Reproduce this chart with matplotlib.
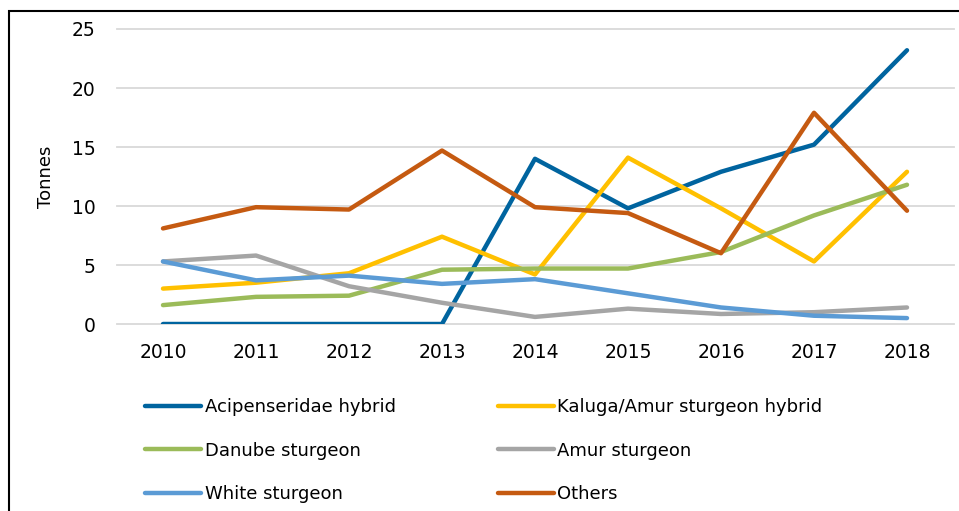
import matplotlib
matplotlib.use('Agg')
import matplotlib.pyplot as plt
from matplotlib.patches import Rectangle

years = ['2010', '2011', '2012', '2013', '2014', '2015', '2016', '2017', '2018']

acipenseridae_hybrid = [0, 0, 0, 0, 14.0, 9.8, 12.9, 15.2, 23.2]
kaluga_amur_hybrid = [3.0, 3.5, 4.3, 7.4, 4.2, 14.1, 9.8, 5.3, 12.9]
danube_sturgeon = [1.6, 2.3, 2.4, 4.6, 4.7, 4.7, 6.1, 9.2, 11.8]
amur_sturgeon = [5.3, 5.8, 3.2, 1.8, 0.6, 1.3, 0.85, 1.0, 1.4]
white_sturgeon = [5.3, 3.7, 4.1, 3.4, 3.8, 2.6, 1.4, 0.7, 0.5]
others = [8.1, 9.9, 9.7, 14.7, 9.9, 9.4, 6.0, 17.9, 9.6]

series_names = ['Acipenseridae hybrid', 'Kaluga/Amur sturgeon hybrid', 'Danube sturgeon',
                'Amur sturgeon', 'White sturgeon', 'Others']
series_values = [acipenseridae_hybrid, kaluga_amur_hybrid, danube_sturgeon,
                 amur_sturgeon, white_sturgeon, others]
series_colors = ['#00649F', '#FFC000', '#9BBB59', '#A5A5A5', '#5B9BD5', '#C55A11']

plt.rcParams['font.family'] = ['DejaVu Sans']

fig = plt.figure(figsize=(9.59, 5.11), dpi=100)
ax = fig.add_axes([116.5 / 959, 187 / 511, 837 / 959, 295 / 511])

x = list(range(len(years)))
lines = {}
for name, values, color in zip(series_names, series_values, series_colors):
    line, = ax.plot(x, values, color=color, linewidth=3.2, label=name,
                    solid_capstyle='round', solid_joinstyle='round')
    lines[name] = line

ax.set_xlim(-0.5, len(years) - 0.5)
ax.set_ylim(0, 25)
ax.set_yticks([0, 5, 10, 15, 20, 25])
ax.set_xticks(x)
ax.set_xticklabels(years)
ax.tick_params(length=0, labelsize=13.5, colors='black')
ax.tick_params(axis='y', pad=15)
ax.tick_params(axis='x', pad=14)
ax.grid(axis='y', color='#D9D9D9', linewidth=1.3)
for gl in ax.get_ygridlines():
    gl.set_clip_on(False)
ax.set_axisbelow(True)
for spine in ax.spines.values():
    spine.set_visible(False)
ax.set_ylabel('Tonnes', fontsize=13, labelpad=12)

# legend fills column-wise, so reorder to get the row layout of the original
order = ['Acipenseridae hybrid', 'Danube sturgeon', 'White sturgeon',
         'Kaluga/Amur sturgeon hybrid', 'Amur sturgeon', 'Others']
fig.legend([lines[n] for n in order], order, ncol=2, loc='upper left',
           bbox_to_anchor=(145 / 959, 1 - 398 / 511), frameon=False,
           fontsize=13, handlelength=3.1, handletextpad=0.2,
           columnspacing=5.65, labelspacing=1.42, borderaxespad=0, borderpad=0)

fig.add_artist(Rectangle((9 / 959, -0.05), 1.0, 1 - 11 / 511 + 0.05,
                         transform=fig.transFigure, fill=False,
                         edgecolor='black', linewidth=1.5, clip_on=False))

fig.savefig('out.png', dpi=100)
